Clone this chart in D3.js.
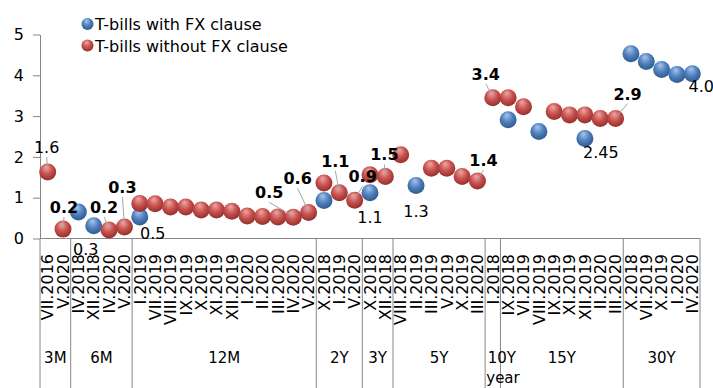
<!DOCTYPE html>
<html>
<head>
<meta charset="utf-8">
<script src="https://cdn.jsdelivr.net/npm/d3@7"></script>
<style>
  body { margin: 0; background: #fff; }
  svg { font-family: "DejaVu Sans", Verdana, sans-serif; }
</style>
</head>
<body>
<svg id="chart"></svg>
<script>
// Category labels, grouped by maturity
const groups = ["3M", "6M", "12M", "2Y", "3Y", "5Y", "10Y", "15Y", "30Y"]
const groupSizes = [2, 4, 12, 3, 2, 6, 1, 8, 5]
const categories = [
  "VII.2016", "V.2020",
  "IV.2018", "XII.2018", "IV.2020", "V.2020",
  "I.2019", "VII.2019", "VIII.2019", "IX.2019", "X.2019", "XI.2019", "XII.2019",
  "I.2020", "II.2020", "III.2020", "IV.2020", "V.2020",
  "X.2018", "I.2019", "V.2020",
  "X.2018", "XII.2018",
  "VIII.2018", "II.2019", "III.2019", "V.2019", "X.2019", "III.2020",
  "I.2018",
  "IX.2018", "VI.2019", "VIII.2019", "IX.2019", "XI.2019", "XII.2019", "II.2020", "III.2020",
  "X.2018", "VII.2019", "X.2019", "I.2020", "IV.2020"
]

// T-bills with FX clause (blue), one value per category, null = no auction
const withFX = [
  null, null,
  0.65, 0.31, null, null,
  0.53, null, null, null, null, null, null, null, null, null, null, null,
  0.93, null, null,
  1.12, null,
  null, 1.30, null, null, null, null,
  null,
  2.91, null, 2.62, null, null, 2.45, null, null,
  4.53, 4.34, 4.14, 4.02, 4.04
]

// T-bills without FX clause (red)
const withoutFX = [
  1.63, 0.23,
  null, null, 0.21, 0.28,
  0.86, 0.85, 0.77, 0.77, 0.70, 0.70, 0.67, 0.55, 0.54, 0.53, 0.52, 0.64,
  1.36, 1.12, 0.94,
  1.56, 1.52,
  2.05, null, 1.72, 1.72, 1.52, 1.41,
  3.45,
  3.45, 3.23, null, 3.11, 3.03, 3.03, 2.94, 2.94,
  null, null, null, null, null
]

const yTicks = [0, 1, 2, 3, 4, 5]

// data labels: series, category index, text
const dataLabels = [
  { s: "red", i: 0, text: "1.6" },
  { s: "red", i: 1, text: "0.2" },
  { s: "blue", i: 3, text: "0.3" },
  { s: "red", i: 4, text: "0.2" },
  { s: "red", i: 5, text: "0.3" },
  { s: "blue", i: 6, text: "0.5" },
  { s: "red", i: 16, text: "0.5" },
  { s: "red", i: 17, text: "0.6" },
  { s: "red", i: 19, text: "1.1" },
  { s: "red", i: 20, text: "0.9" },
  { s: "blue", i: 21, text: "1.1" },
  { s: "red", i: 22, text: "1.5" },
  { s: "blue", i: 24, text: "1.3" },
  { s: "red", i: 28, text: "1.4" },
  { s: "red", i: 29, text: "3.4" },
  { s: "blue", i: 35, text: "2.45" },
  { s: "red", i: 37, text: "2.9" },
  { s: "blue", i: 42, text: "4.0" }
]

// label placement (offset of label centre/baseline from the bubble)
const labelOffsets = [
  [-1, -19], [1, -16], [-8, 29], [-5, -17], [-2, -34], [13, 22],
  [-24, -19], [-11, -28], [-4, -26], [8, -18], [0, 30], [-1, -16],
  [0, 32], [6, -15], [-7, -18], [16, 19], [12, -19], [9, 18]
]

const WIDTH = 713
const HEIGHT = 388
const LEFT = 40
const RIGHT = 700
const TOP = 34.5
const BOTTOM = 238.5
const R = 8.5

const svg = d3.select("#chart").attr("width", WIDTH).attr("height", HEIGHT)

const x = d3.scaleBand().domain(d3.range(categories.length)).range([LEFT, RIGHT]).padding(0)
const y = d3.scaleLinear().domain([0, 5]).range([BOTTOM, TOP])
const cx = (i) => x(i) + x.bandwidth() / 2

// sphere-like gradients
const defs = svg.append("defs")
function ballGradient(id, light, mid, dark) {
  const g = defs.append("radialGradient").attr("id", id)
    .attr("cx", "45%").attr("cy", "40%").attr("r", "60%")
    .attr("fx", "42%").attr("fy", "22%")
  g.append("stop").attr("offset", "0%").attr("stop-color", light)
  g.append("stop").attr("offset", "55%").attr("stop-color", mid)
  g.append("stop").attr("offset", "100%").attr("stop-color", dark)
}
ballGradient("gBlue", "#a9c6ea", "#4f81bd", "#2f5b8f")
ballGradient("gRed", "#eca9a7", "#c9514e", "#93302d")
const fills = { blue: "url(#gBlue)", red: "url(#gRed)" }

// y axis
const yAxis = svg.append("g")
  .attr("transform", `translate(${LEFT},0)`)
  .call(d3.axisLeft(y).tickValues(yTicks).tickSize(7).tickSizeOuter(0).tickPadding(9).tickFormat(d3.format("d")))
yAxis.select(".domain").attr("stroke", "#868686")
yAxis.selectAll(".tick line").attr("stroke", "#868686")
yAxis.selectAll(".tick text").attr("font-size", 16).attr("fill", "#000")
  .attr("font-family", "DejaVu Sans")

// x axis line and group separators
svg.append("line")
  .attr("x1", LEFT).attr("x2", RIGHT).attr("y1", BOTTOM).attr("y2", BOTTOM)
  .attr("stroke", "#868686")

let start = 0
const bounds = [0]
groupSizes.forEach((n) => { start += n; bounds.push(start) })
svg.selectAll(".sep").data(bounds).join("line")
  .attr("class", "sep")
  .attr("x1", (b) => b < categories.length ? x(b) : RIGHT)
  .attr("x2", (b) => b < categories.length ? x(b) : RIGHT)
  .attr("y1", BOTTOM).attr("y2", HEIGHT)
  .attr("stroke", "#868686")

// rotated category labels
svg.selectAll(".cat").data(categories).join("text")
  .attr("class", "cat")
  .attr("transform", (d, i) => `translate(${cx(i)},254) rotate(-90)`)
  .attr("dy", "0.36em")
  .attr("text-anchor", "end")
  .attr("font-size", 16)
  .text((d) => d)

// group labels
svg.selectAll(".grp").data(groups).join("text")
  .attr("class", "grp")
  .attr("x", (d, k) => {
    const a = x(bounds[k])
    const b = bounds[k + 1] < categories.length ? x(bounds[k + 1]) : RIGHT
    return (a + b) / 2 + (d === "10Y" ? 9 : 0)
  })
  .attr("y", 363)
  .attr("text-anchor", "middle")
  .attr("font-size", 15)
  .text((d) => d)

svg.append("text")
  .attr("x", 503).attr("y", 383)
  .attr("text-anchor", "middle")
  .attr("font-size", 15)
  .text("year")

// bubbles
const points = []
withFX.forEach((v, i) => { if (v != null) points.push({ s: "blue", i, v }) })
withoutFX.forEach((v, i) => { if (v != null) points.push({ s: "red", i, v }) })

svg.selectAll(".ball").data(points).join("circle")
  .attr("class", "ball")
  .attr("cx", (d) => cx(d.i))
  .attr("cy", (d) => y(d.v))
  .attr("r", R)
  .attr("fill", (d) => fills[d.s])

// data labels with leader lines
const labelData = dataLabels.map((d, k) => {
  const v = (d.s === "blue" ? withFX : withoutFX)[d.i]
  const px = cx(d.i)
  const py = y(v)
  return { ...d, px, py, lx: px + labelOffsets[k][0], ly: py + labelOffsets[k][1] }
})

svg.selectAll(".leader").data(labelData.filter((d) => d.s === "red")).join("line")
  .attr("class", "leader")
  .attr("x1", (d) => d.lx).attr("y1", (d) => d.ly + 4)
  .attr("x2", (d) => d.px).attr("y2", (d) => d.py - 1)
  .attr("stroke", "#a6a6a6").attr("stroke-width", 1)

svg.selectAll(".dlabel").data(labelData).join("text")
  .attr("class", "dlabel")
  .attr("x", (d) => d.lx)
  .attr("y", (d) => d.ly)
  .attr("text-anchor", "middle")
  .attr("font-size", 16)
  .attr("font-weight", (d) => d.s === "red" && d.i !== 0 ? "bold" : "normal")
  .text((d) => d.text)

// legend
const legend = svg.append("g")
const legendItems = [
  { s: "blue", text: "T-bills with FX clause" },
  { s: "red", text: "T-bills without FX clause" }
]
legendItems.forEach((d, k) => {
  const yy = 24 + k * 21.5
  legend.append("circle").attr("cx", 87.5).attr("cy", yy).attr("r", 6).attr("fill", fills[d.s])
  legend.append("text").attr("x", 95).attr("y", yy + 6).attr("font-size", 16).text(d.text)
})
</script>
</body>
</html>
